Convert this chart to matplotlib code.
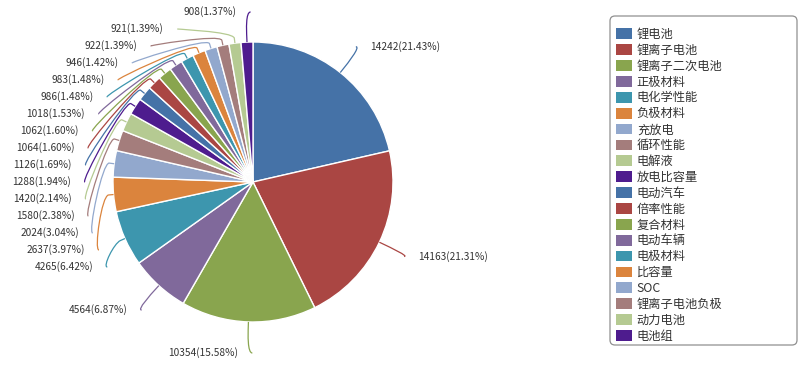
import numpy as np
import matplotlib
matplotlib.use("Agg")
import matplotlib.pyplot as plt
from matplotlib.path import Path
from matplotlib.patches import PathPatch, FancyBboxPatch

plt.rcParams['font.family'] = ['Noto Sans CJK SC', 'DejaVu Sans']

# --------------------------------------------------
# DATA
# --------------------------------------------------
keywords = ["锂电池", "锂离子电池", "锂离子二次电池", "正极材料", "电化学性能",
            "负极材料", "充放电", "循环性能", "电解液", "放电比容量",
            "电动汽车", "倍率性能", "复合材料", "电动车辆", "电极材料",
            "比容量", "SOC", "锂离子电池负极", "动力电池", "电池组"]
counts = [14242, 14163, 10354, 4564, 4265, 2637, 2024, 1580, 1420, 1288,
          1126, 1064, 1062, 1018, 986, 983, 946, 922, 921, 908]

palette = ['#4572A7', '#AA4643', '#89A54E', '#80699B', '#3D96AE',
           '#DB843D', '#92A8CD', '#A47D7C', '#B5CA92', '#4E1C8E']
colors = [palette[i % len(palette)] for i in range(len(counts))]

W, H = 805, 366
CX, CY, R = 253, 184, 140
LABEL_DIST = 33
PAD = 9
ROW = 17


def main():
    fig = plt.figure(figsize=(W / 100, H / 100), dpi=100)
    ax = fig.add_axes([0, 0, 1, 1])

    wedges, _ = ax.pie(counts, colors=colors, startangle=90, counterclock=False,
                       center=(CX, CY), radius=R, frame=True,
                       wedgeprops=dict(edgecolor="white", linewidth=1))
    ax.set_xlim(0, W)
    ax.set_ylim(0, H)
    ax.set_aspect("equal")
    ax.axis("off")

    total = float(sum(counts))

    # --------------------------------------------------
    # LABEL LAYOUT (natural position, then push apart)
    # --------------------------------------------------
    RL = R + LABEL_DIST
    items = []
    for i, w in enumerate(wedges):
        ang = np.deg2rad((w.theta1 + w.theta2) / 2)
        left = np.cos(ang) < 0
        y = CY + RL * np.sin(ang)
        items.append(dict(i=i, ang=ang, left=left, y=y, moved=False))

    top_limit = H - 12
    for side in (True, False):
        group = sorted([it for it in items if it["left"] == side],
                       key=lambda d: -d["y"])
        prev = None
        for it in group:
            y = min(it["y"], top_limit)
            if prev is not None and y > prev - ROW:
                y = prev - ROW
                it["moved"] = True
            it["y"] = max(y, 13)
            prev = it["y"]

    for it in items:
        i, ang, left, y = it["i"], it["ang"], it["left"], it["y"]
        sgn = -1 if left else 1
        if it["moved"]:
            dy = np.clip(y - CY, -RL, RL)
            x = CX + sgn * np.sqrt(RL ** 2 - dy ** 2)
        else:
            x = CX + RL * np.cos(ang)
        ex, ey = CX + R * np.cos(ang), CY + R * np.sin(ang)
        bx, by = CX + (R + 5) * np.cos(ang), CY + (R + 5) * np.sin(ang)
        cx2, cy2 = CX + (R + 12) * np.cos(ang), CY + (R + 12) * np.sin(ang)
        verts = [(x - sgn * 5, y), (x, y), (cx2, cy2), (bx, by), (ex, ey)]
        codes = [Path.MOVETO, Path.CURVE4, Path.CURVE4, Path.CURVE4, Path.LINETO]
        ax.add_patch(PathPatch(Path(verts, codes), facecolor="none",
                               edgecolor=colors[i], linewidth=0.9))
        pct = counts[i] / total * 100
        ax.text(x + sgn * PAD, y, f"{counts[i]}({pct:.2f}%)",
                ha="right" if left else "left", va="center",
                fontsize=7.3, color="#333333")

    # --------------------------------------------------
    # LEGEND
    # --------------------------------------------------
    ax.add_patch(FancyBboxPatch((610, H - 345), 187, 329,
                                boxstyle="round,pad=0,rounding_size=5",
                                facecolor="white", edgecolor="#909090",
                                linewidth=0.9, zorder=1))
    leg = ax.legend(wedges, keywords, loc="upper left",
                    bbox_to_anchor=(616, H - 28), bbox_transform=ax.transData,
                    fontsize=8.8, frameon=False,
                    handlelength=1.3, handleheight=0.98, handletextpad=0.4,
                    labelspacing=0.235, borderpad=0, borderaxespad=0)
    leg.set_zorder(3)
    for t in leg.get_texts():
        t.set_color("#333333")
    for h in leg.legend_handles:
        h.set_edgecolor("none")

    fig.savefig("out.png", dpi=100)


if __name__ == "__main__":
    main()
